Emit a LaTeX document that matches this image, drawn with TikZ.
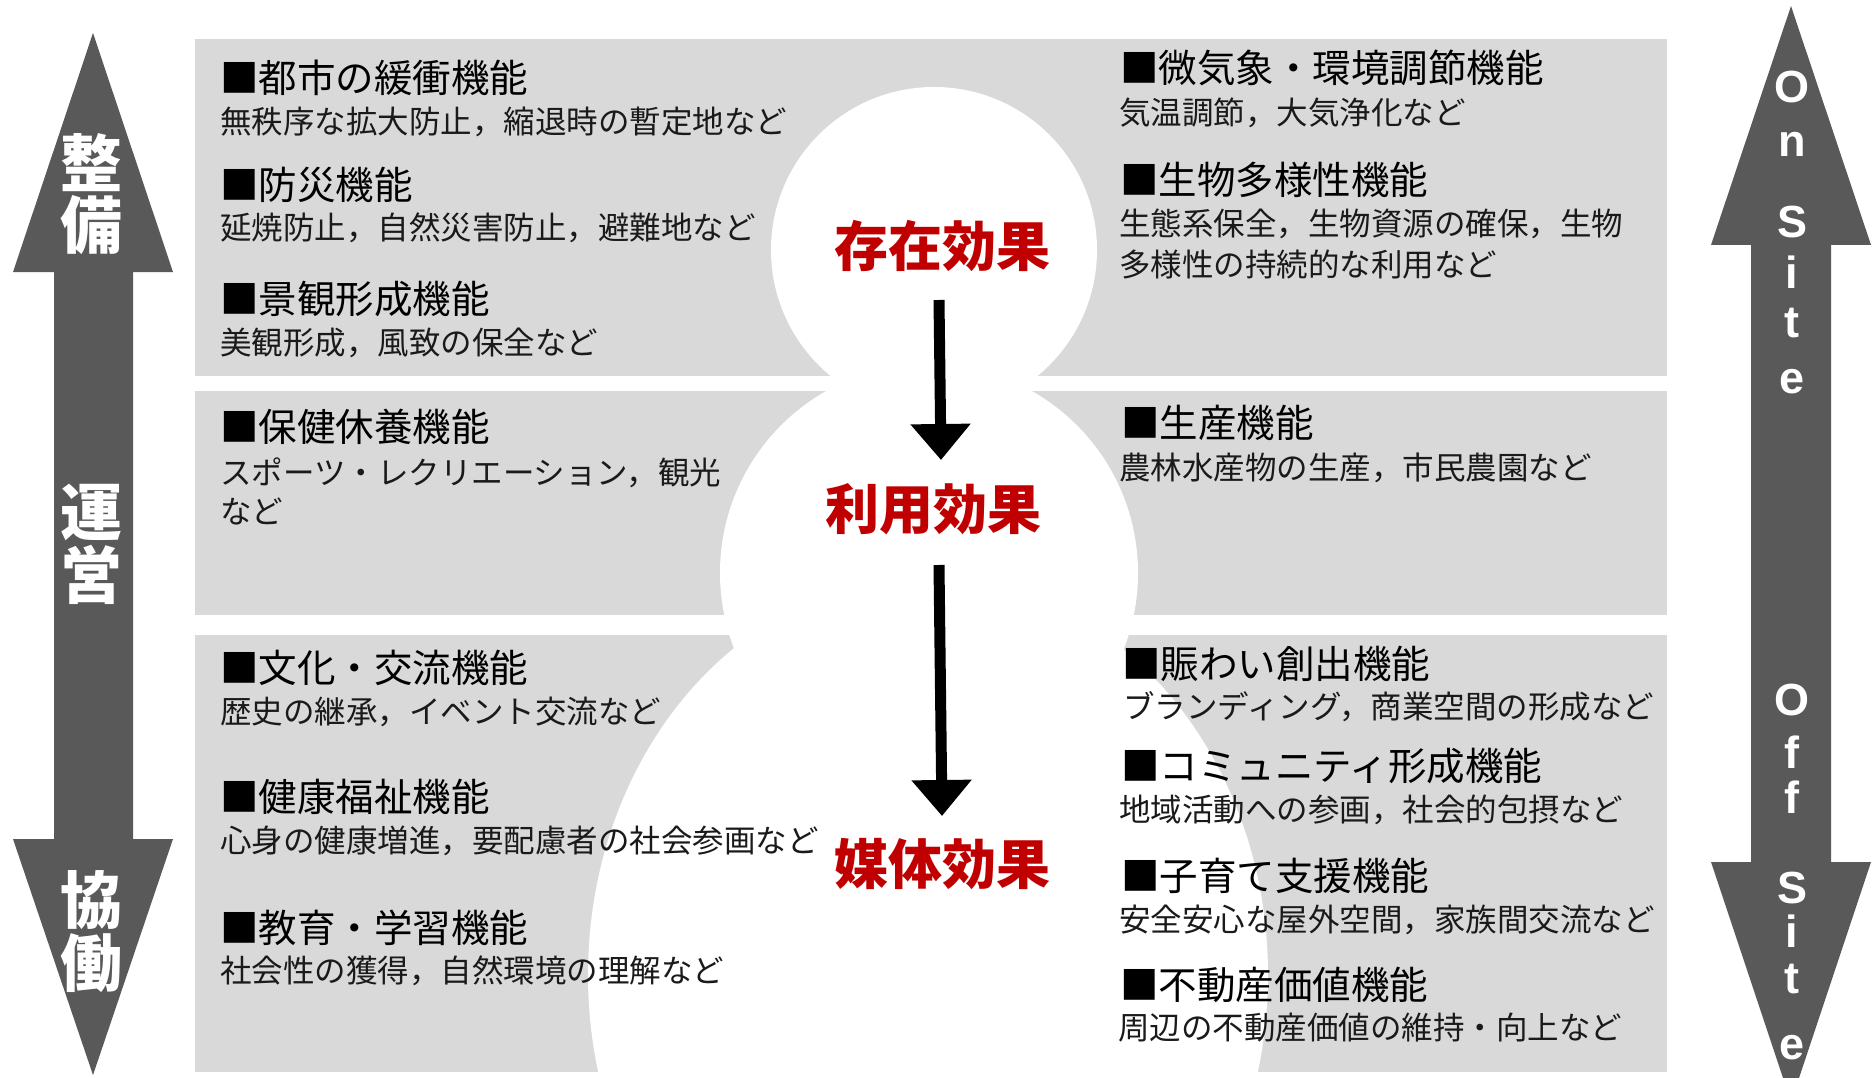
\documentclass[tikz,border=0pt]{standalone}
\usepackage{fontspec}
\setmainfont{Liberation Sans}
\newfontfamily\jp{Noto Sans CJK JP}
\usetikzlibrary{arrows.meta}
\definecolor{panelgray}{HTML}{D9D9D9}
\definecolor{arrowgray}{HTML}{595959}
\definecolor{effred}{HTML}{C00000}
\definecolor{subtext}{HTML}{1A1A1A}
\begin{document}
\begin{tikzpicture}[x=1pt,y=-1pt,
  head/.style={anchor=west, inner sep=0pt, font=\jp\fontsize{38.5pt}{40pt}\selectfont, text=black},
  desc/.style={anchor=west, inner sep=0pt, font=\jp\fontsize{31.5pt}{33pt}\selectfont, text=subtext},
  effect/.style={inner sep=0pt, font=\jp\bfseries\fontsize{54pt}{56pt}\selectfont, text=effred},
  axisk/.style={inner sep=0pt, font=\jp\bfseries\fontsize{62pt}{64pt}\selectfont, text=white},
  axisl/.style={inner sep=0pt, anchor=base, font=\bfseries\fontsize{45pt}{48pt}\selectfont, text=white},
  flow/.style={line width=11pt, -{Triangle[width=58pt,length=36pt]}},
  panel/.style={fill=panelgray, draw=none},
  cutout/.style={fill=white, draw=none},
  axisarrow/.style={fill=arrowgray, draw=none}
]
\useasboundingbox (0,0) rectangle (1874,1078);
\fill[white] (0,0) rectangle (1874,1078);
\clip (0,0) rectangle (1874,1078);

% gray panels
\fill[panel] (195,39) rectangle (1667,376);
\fill[panel] (195,391) rectangle (1667,615);
\fill[panel] (195,635) rectangle (1667,1072);

% white figure (head, upper body, lower body)
\fill[cutout] (934,250) circle [radius=163pt];
\fill[cutout] (929,573) circle [radius=209pt];
\fill[cutout] (928,975) ellipse [x radius=340pt, y radius=398pt];

% side axis arrows
\fill[axisarrow] (93,33) -- (173,272) -- (133,272) -- (133,839) -- (173,839) -- (93,1075)
  -- (13,839) -- (54,839) -- (54,272) -- (13,272) -- cycle;
\fill[axisarrow] (1791,6) -- (1871,245) -- (1831,245) -- (1831,862) -- (1871,862) -- (1791,1102)
  -- (1711,862) -- (1751,862) -- (1751,245) -- (1711,245) -- cycle;

\node[axisk] (k1) at (91,163) {整};
\node[axisk] (k2) at (91,225) {備};
\node[axisk] (k3) at (91,512) {運};
\node[axisk] (k4) at (91,575) {営};
\node[axisk] (k5) at (91,900) {協};
\node[axisk] (k6) at (91,963) {働};

\node[axisl] (l1) at (1792,103) {O};
\node[axisl] (l2) at (1792,157) {n};
\node[axisl] (l3) at (1792,237) {S};
\node[axisl] (l4) at (1792,288) {i};
\node[axisl] (l5) at (1792,337) {t};
\node[axisl] (l6) at (1792,393) {e};
\node[axisl] (m1) at (1792,715) {O};
\node[axisl] (m2) at (1792,768) {f};
\node[axisl] (m3) at (1792,813) {f};
\node[axisl] (m4) at (1792,903) {S};
\node[axisl] (m5) at (1792,947) {i};
\node[axisl] (m6) at (1792,993) {t};
\node[axisl] (m7) at (1792,1059) {e};

% left column
\node[head] (h1) at (220,78) {■都市の緩衝機能};
\node[desc] (d1) at (220,122) {無秩序な拡大防止，縮退時の暫定地など};
\node[head] (h2) at (220,185) {■防災機能};
\node[desc] (d2) at (220,228) {延焼防止，自然災害防止，避難地など};
\node[head] (h3) at (220,299) {■景観形成機能};
\node[desc] (d3) at (220,343) {美観形成，風致の保全など};
\node[head] (h4) at (220,427) {■保健休養機能};
\node[desc] (d4) at (220,473) {スポーツ・レクリエーション，観光};
\node[desc] (d4b) at (220,511) {など};
\node[head] (h5) at (220,668) {■文化・交流機能};
\node[desc] (d5) at (220,712) {歴史の継承，イベント交流など};
\node[head] (h6) at (220,797) {■健康福祉機能};
\node[desc] (d6) at (220,841) {心身の健康増進，要配慮者の社会参画など};
\node[head] (h7) at (220,928) {■教育・学習機能};
\node[desc] (d7) at (220,971) {社会性の獲得，自然環境の理解など};

% right column
\node[head] (h8) at (1120,68) {■微気象・環境調節機能};
\node[desc] (d8) at (1119,113) {気温調節，大気浄化など};
\node[head] (h9) at (1120,180) {■生物多様性機能};
\node[desc] (d9) at (1119,224) {生態系保全，生物資源の確保，生物};
\node[desc] (d9b) at (1119,265) {多様性の持続的な利用など};
\node[head] (h10) at (1121,423) {■生産機能};
\node[desc] (d10) at (1119,468) {農林水産物の生産，市民農園など};
\node[head] (h11) at (1122,664) {■賑わい創出機能};
\node[desc] (d11) at (1123,707) {ブランディング，商業空間の形成など};
\node[head] (h12) at (1121,766) {■コミュニティ形成機能};
\node[desc] (d12) at (1119,810) {地域活動への参画，社会的包摂など};
\node[head] (h13) at (1121,876) {■子育て支援機能};
\node[desc] (d13) at (1119,920) {安全安心な屋外空間，家族間交流など};
\node[head] (h14) at (1120,985) {■不動産価値機能};
\node[desc] (d14) at (1118,1028) {周辺の不動産価値の維持・向上など};

% effects and flow arrows
\node[effect] (e1) at (942,246) {存在効果};
\node[effect] (e2) at (933,509) {利用効果};
\node[effect] (e3) at (942,864) {媒体効果};
\coordinate (a1s) at (939,300);
\coordinate (a1e) at (941,460);
\coordinate (a2s) at (939,565);
\coordinate (a2e) at (942,816);
\draw[flow] (a1s) -- (a1e);
\draw[flow] (a2s) -- (a2e);
\end{tikzpicture}
\end{document}
